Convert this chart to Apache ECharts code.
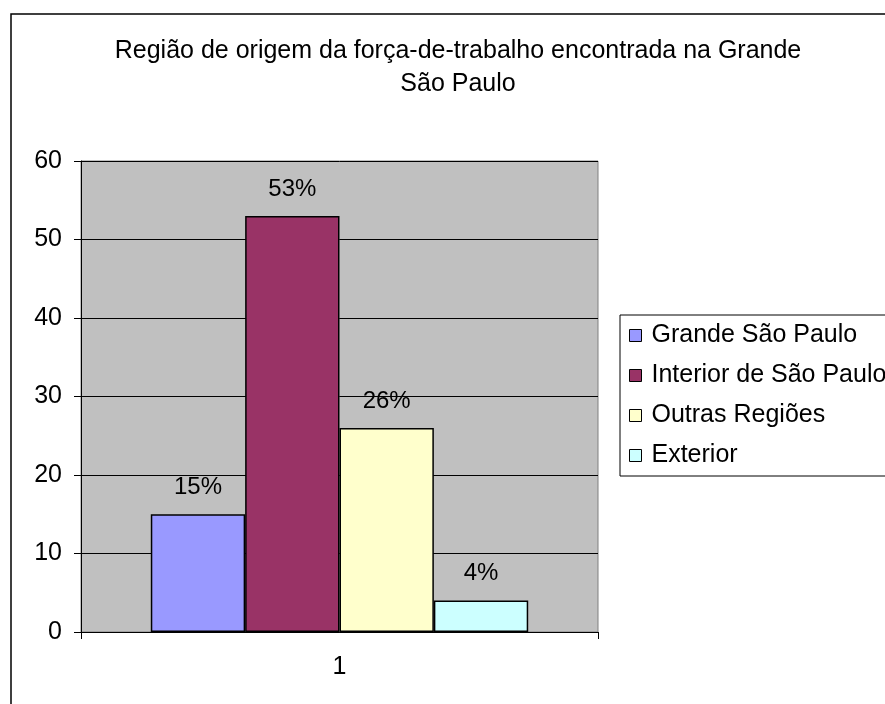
<!DOCTYPE html>
<html>
<head>
<meta charset="utf-8">
<script src="https://cdn.jsdelivr.net/npm/echarts@6/dist/echarts.min.js"></script>
<style>
  html, body { margin: 0; padding: 0; background: #fff; }
  #chart { width: 885px; height: 704px; }
</style>
</head>
<body>
<div id="chart"></div>
<script>
// categories and values
var categories = ['1']
var seriesNames = ['Grande São Paulo', 'Interior de São Paulo', 'Outras Regiões', 'Exterior']
var grandeSP = [15]
var interiorSP = [53]
var outrasRegioes = [26]
var exterior = [4]
var yTicks = [0, 10, 20, 30, 40, 50, 60]

var colors = ['#9999FF', '#993366', '#FFFFCC', '#CCFFFF']
var font = 'Liberation Sans, Arial, sans-serif'

var chart = echarts.init(document.getElementById('chart'))

function barSeries(name, data) {
    return {
        name: name,
        type: 'bar',
        barGap: '0%',
        barCategoryGap: '27%',
        itemStyle: {
            borderColor: '#000',
            borderWidth: 1.5
        },
        label: {
            show: true,
            position: 'top',
            distance: 15,
            formatter: '{c}%',
            color: '#000',
            fontFamily: font,
            fontSize: 24
        },
        data: data
    }
}

var option = {
    animation: false,
    color: colors,
    title: {
        text: 'Região de origem da força-de-trabalho encontrada na Grande\nSão Paulo',
        left: 458,
        top: 35,
        textAlign: 'center',
        padding: 0,
        textStyle: {
            fontFamily: font,
            fontSize: 25,
            fontWeight: 'normal',
            color: '#000',
            lineHeight: 33
        }
    },
    legend: {
        orient: 'vertical',
        left: 620,
        top: 315,
        padding: [8, 30, 8, 9],
        itemGap: 15,
        itemWidth: 12,
        itemHeight: 12,
        borderColor: '#000',
        borderWidth: 1,
        icon: 'rect',
        selectedMode: false,
        itemStyle: {
            borderColor: '#000',
            borderWidth: 1
        },
        textStyle: {
            fontFamily: font,
            fontSize: 25,
            color: '#000',
            padding: [0, 0, 0, 5]
        },
        data: seriesNames
    },
    grid: {
        left: 81,
        top: 161,
        right: 287,
        bottom: 72,
        show: true,
        backgroundColor: '#C0C0C0',
        borderColor: '#808080',
        borderWidth: 1
    },
    xAxis: {
        type: 'category',
        data: categories,
        axisLine: { lineStyle: { color: '#000', width: 1 } },
        axisTick: { show: true, length: 7, lineStyle: { color: '#000' } },
        axisLabel: {
            margin: 23,
            fontFamily: font,
            fontSize: 25,
            color: '#000'
        }
    },
    yAxis: {
        type: 'value',
        min: yTicks[0],
        max: yTicks[yTicks.length - 1],
        interval: 10,
        axisLine: { show: true, lineStyle: { color: '#000', width: 1 } },
        axisTick: { show: true, length: 7, lineStyle: { color: '#000' } },
        splitLine: { show: true, lineStyle: { color: '#000', width: 1 } },
        axisLabel: {
            margin: 19,
            fontFamily: font,
            fontSize: 25,
            color: '#000'
        }
    },
    graphic: [{
        type: 'rect',
        shape: { x: 11, y: 14, width: 900, height: 720 },
        style: { fill: 'none', stroke: '#000', lineWidth: 1.5 },
        silent: true,
        z: 100
    }],
    series: [
        barSeries(seriesNames[0], grandeSP),
        barSeries(seriesNames[1], interiorSP),
        barSeries(seriesNames[2], outrasRegioes),
        barSeries(seriesNames[3], exterior)
    ]
}

chart.setOption(option)
</script>
</body>
</html>
